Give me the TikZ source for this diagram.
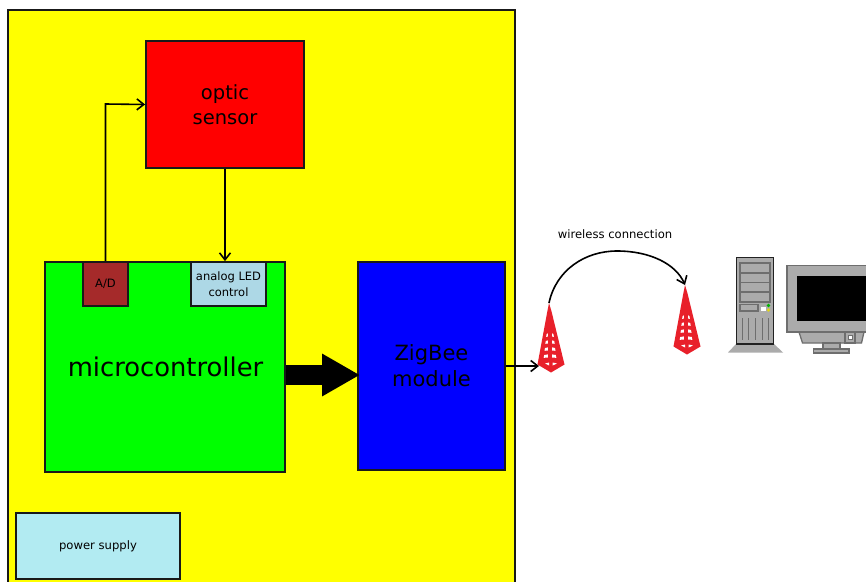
\documentclass[tikz,border=0pt]{standalone}
\usepackage{fontspec}
\setmainfont{DejaVu Sans}
\usetikzlibrary{arrows.meta}
\definecolor{boardyellow}{HTML}{FFFF00}
\definecolor{towerred}{HTML}{E8202A}
\definecolor{pcgrey}{HTML}{ABABAB}
\definecolor{pcline}{HTML}{6E6E6E}
\definecolor{pcdark}{HTML}{222222}
\definecolor{brownbox}{HTML}{A52A2A}
\definecolor{lightbluebox}{HTML}{ADD8E6}
\definecolor{powerbox}{HTML}{B2EBF2}
\definecolor{sensorred}{HTML}{FF0000}
\definecolor{microgreen}{HTML}{00FF00}
\definecolor{zigblue}{HTML}{0000FF}
\tikzset{
  box/.style={draw=black!90,line width=1.8pt,inner sep=0pt,align=center,text=black},
  conn/.style={draw=black,line width=1.6pt,-{Straight Barb[length=7pt,width=11pt,line width=1.6pt]}},
  bigarrow/.style={draw=black,line width=20pt,-{Triangle[length=38pt,width=40pt]}},
  pcbody/.style={fill=pcgrey,draw=pcdark,line width=1.6pt},
  pcmon/.style={fill=pcgrey,draw=pcline,line width=1.3pt},
  bayline/.style={draw=pcline,line width=1.2pt},
  radiotower/.pic={
    \fill[towerred] (0,0) -- (2.4,8) -- (15.5,61.5) -- (2,69.5) -- (-11.5,61.5) -- (-1.6,8) -- cycle;
    \foreach \yy/\hw in {31/2.4,38/3.2,45/4,52/4.8}{
      \fill[white] (-\hw,\yy) -- (-1.1,\yy-.6) -- (-1.1,\yy+2.6) -- (-\hw-.5,\yy+2.8) -- cycle;
      \fill[white] (\hw+2,\yy) -- (3.1,\yy-.6) -- (3.1,\yy+2.6) -- (\hw+2.5,\yy+2.8) -- cycle;
    }
    \fill[white] (-4,60.5) -- (.2,59.5) -- (.2,62.5) -- cycle;
    \fill[white] (8,60.5) -- (3.6,59.5) -- (3.6,62.5) -- cycle;
  }
}
\begin{document}
\begin{tikzpicture}[x=1pt,y=-1pt]
\useasboundingbox (0,0) rectangle (866,581);
\clip (0,0) rectangle (866,581);
\fill[white] (0,0) rectangle (866,581);
% board
\node[box,fill=boardyellow,minimum width=507pt,minimum height=600pt] (board) at (261.5,310) {};
% boxes
\node[box,fill=sensorred,minimum width=158pt,minimum height=127pt,font=\fontsize{19.5}{25}\selectfont] (sensor) at (225,104.5) {optic\\sensor};
\node[box,fill=microgreen,minimum width=240pt,minimum height=210pt] (micro) at (165,367) {};
\node[font=\fontsize{25.8}{30}\selectfont,text=black] (microlabel) at (165.5,367) {microcontroller};
\node[box,fill=brownbox,minimum width=45pt,minimum height=44pt,font=\fontsize{11.5}{14}\selectfont] (ad) at (105.5,284) {A/D};
\node[box,fill=lightbluebox,minimum width=75pt,minimum height=44pt,font=\fontsize{11.5}{16}\selectfont] (led) at (228.5,284) {analog LED\\control};
\node[box,fill=zigblue,minimum width=147pt,minimum height=208pt,font=\fontsize{21}{25.5}\selectfont] (zig) at (431.5,366) {\raisebox{1pt}{ZigBee}\\\raisebox{1pt}{module}};
\node[box,fill=powerbox,minimum width=164pt,minimum height=66pt,font=\fontsize{11.6}{14}\selectfont] (power) at (98,546) {power supply};
\node[font=\fontsize{11.6}{14}\selectfont,text=black] (wl) at (615,234) {wireless connection};
% towers
\pic at (549,303) {radiotower};
\pic at (685,285) {radiotower};
\coordinate (t1feed) at (539,366);
\coordinate (t1top) at (549,303);
\coordinate (t2top) at (685,285);
\coordinate (bigend) at (360,375);
% connectors
\draw[conn] (ad.north) -- (105.5,104) -- (sensor.west);
\draw[conn] (sensor.south) -- (sensor.south |- led.north);
\draw[bigarrow] (micro.east |- bigend) -- (bigend);
\draw[conn] (zig.east |- t1feed) -- (t1feed);
\draw[conn] (t1top) .. controls (556,270) and (585,251) .. (617,251) .. controls (650,251) and (676,264) .. (t2top);
% computer
\fill[pcgrey] (736,344) -- (728,352.5) -- (783,352.5) -- (774,344) -- cycle;
\draw[pcbody] (736.5,257.5) rectangle (773.5,344);
\draw[bayline,fill=pcgrey] (740,263) rectangle (770,302);
\draw[bayline] (740,273) -- (770,273) (740,282.5) -- (770,282.5) (740,292) -- (770,292);
\draw[bayline] (740,304.5) rectangle (758,311);
\fill[white] (761,307) rectangle (765.5,311);
\fill[green!70!black] (768.5,305.5) circle (1.8);
\fill[yellow!85!black] (768.5,310) circle (1.8);
\foreach \xx in {742,748.5,755,762,768}
  \draw[bayline,line width=.8pt] (\xx,318) -- (\xx,340);
\draw[pcmon] (799,332) -- (802.5,343) -- (861.5,343) -- (864,332) -- cycle;
\draw[pcmon] (845,332) rectangle (855,343);
\draw[pcmon,fill=white,line width=.8pt] (848.5,335.5) rectangle (852,339);
\draw[pcmon] (823,343) rectangle (840,349);
\draw[pcmon] (813.5,349) rectangle (849,353);
\draw[pcmon] (787,265.5) rectangle (870,332);
\fill[black] (797,275.5) rectangle (870,321);
\end{tikzpicture}
\end{document}
